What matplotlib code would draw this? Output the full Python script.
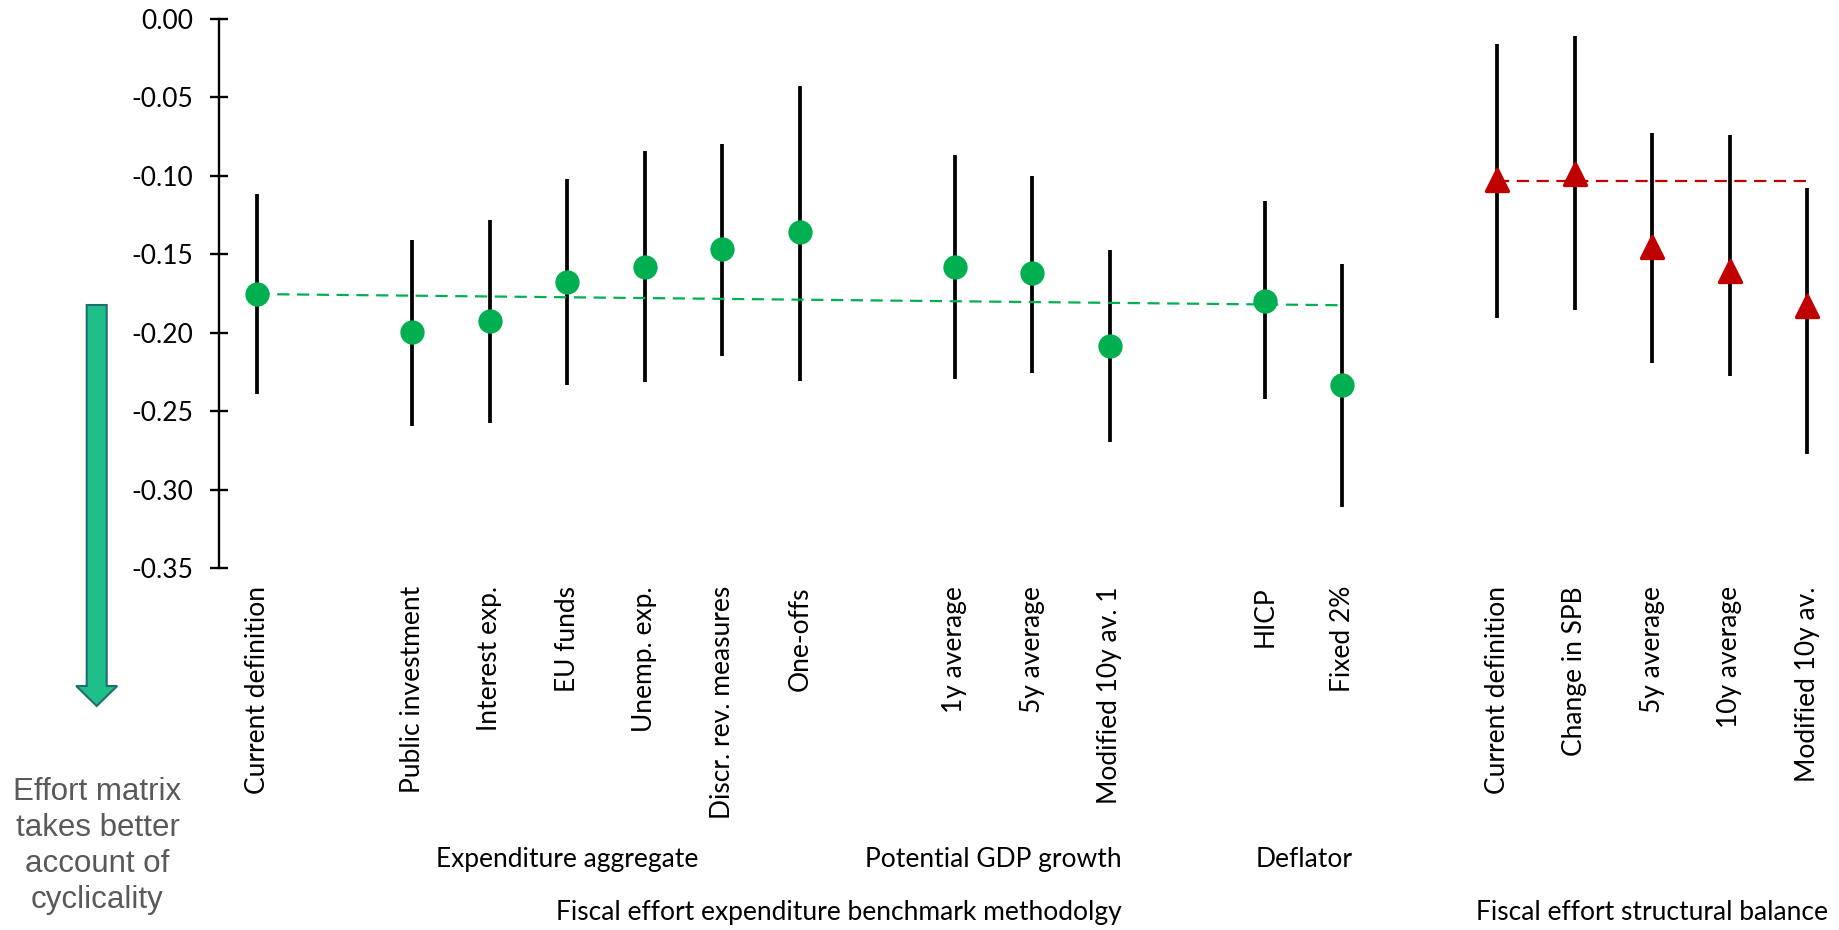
import numpy as np
import matplotlib
matplotlib.use("Agg")
import matplotlib.pyplot as plt
import matplotlib.transforms as mtransforms
from matplotlib.patches import FancyArrow
from matplotlib.markers import MarkerStyle
from matplotlib.ticker import FormatStrFormatter

plt.rcParams['axes.unicode_minus'] = False
plt.rcParams['font.family'] = ['Lato', 'DejaVu Sans']

# ---------------- data ----------------
categories = ["Current definition", "", "Public investment", "Interest exp.", "EU funds",
              "Unemp. exp.", "Discr. rev. measures", "One-offs", "", "1y average",
              "5y average", "Modified 10y av. 1", "", "HICP", "Fixed 2%", "",
              "Current definition", "Change in SPB", "5y average", "10y average",
              "Modified 10y av."]

nan = np.nan
exp_mid = [-0.1753, nan, -0.1994, -0.1928, -0.1677, -0.1580, -0.1466, -0.1361, nan,
           -0.1580, -0.1623, -0.2086, nan, -0.1799, -0.2337, nan, nan, nan, nan, nan, nan]
exp_low = [-0.2391, nan, -0.2595, -0.2576, -0.2337, -0.2318, -0.2152, -0.2310, nan,
           -0.2293, -0.2256, -0.2695, nan, -0.2422, -0.3113, nan, nan, nan, nan, nan, nan]
exp_high = [-0.1117, nan, -0.1412, -0.1281, -0.1025, -0.0845, -0.0798, -0.0428, nan,
            -0.0866, -0.1000, -0.1473, nan, -0.1161, -0.1563, nan, nan, nan, nan, nan, nan]

sb_mid = [nan] * 16 + [-0.1028, -0.0988, -0.1458, -0.1611, -0.1832]
sb_low = [nan] * 16 + [-0.1908, -0.1855, -0.2194, -0.2279, -0.2771]
sb_high = [nan] * 16 + [-0.0161, -0.0114, -0.0729, -0.0744, -0.1081]

# reference lines (start/end values)
exp_ref_slots = [0, 14]
exp_ref_values = [-0.1755, -0.1826]
sb_ref_slots = [16, 20]
sb_ref_values = [-0.1032, -0.1032]

group_labels_1 = ["Expenditure aggregate", "Potential GDP growth", "Deflator"]
group_pos_1 = [4.0, 9.5, 13.5]
group_labels_2 = ["Fiscal effort expenditure benchmark methodolgy", "Fiscal effort structural balance"]
group_pos_2 = [7.5, 18.0]

yticks = [0.00, -0.05, -0.10, -0.15, -0.20, -0.25, -0.30, -0.35]

annotation = "Effort matrix\ntakes better\naccount of\ncyclicality"

# ---------------- figure ----------------
W, H = 1840, 930
fig = plt.figure(figsize=(W / 100, H / 100), dpi=100)
ax = fig.add_axes([218.7 / W, (H - 568) / H, (21 * 77.5) / W, (568 - 18.6) / H])

x = np.arange(len(categories))
GREEN = '#00B050'
RED = '#C00000'

exp_mid_a = np.array(exp_mid); exp_low_a = np.array(exp_low); exp_high_a = np.array(exp_high)
sb_mid_a = np.array(sb_mid); sb_low_a = np.array(sb_low); sb_high_a = np.array(sb_high)

ax.vlines(x, exp_low_a, exp_high_a, color='black', lw=2.7, zorder=2)
ax.vlines(x, sb_low_a, sb_high_a, color='black', lw=2.7, zorder=2)

ax.plot(exp_ref_slots, exp_ref_values, color=GREEN, lw=1.6, dashes=(5.5, 3.4), zorder=3)
ax.plot(sb_ref_slots, sb_ref_values, color=RED, lw=1.6, dashes=(5.5, 3.4), zorder=3)

ax.plot(x, exp_mid_a, 'o', color=GREEN, markersize=17.5, markeredgewidth=0, zorder=4)
tri = MarkerStyle('^', joinstyle='round')
ax.plot(x, sb_mid_a, linestyle='none', marker=tri, color=RED, markersize=15.5,
        markeredgewidth=2.4, markeredgecolor=RED, zorder=4)

ax.set_xlim(-0.5, len(categories) - 0.5)
ax.set_ylim(-0.35, 0.0)
ax.set_yticks(yticks)
ax.yaxis.set_major_formatter(FormatStrFormatter('%.2f'))

lab_idx = [i for i, c in enumerate(categories) if c]
ax.set_xticks(lab_idx)
ax.set_xticklabels([categories[i] for i in lab_idx], rotation=90, fontsize=19)
ax.tick_params(axis='x', length=0, pad=13)
ax.tick_params(axis='y', direction='inout', length=13, width=1.7, labelsize=19, pad=12)

for s in ['top', 'right', 'bottom']:
    ax.spines[s].set_visible(False)
ax.spines['left'].set_linewidth(1.7)
ax.spines['left'].set_bounds(-0.35, 0.0)

# group labels
trans = mtransforms.blended_transform_factory(ax.transData, fig.transFigure)
for lab, p in zip(group_labels_1, group_pos_1):
    ax.text(p, 1 - 859 / H, lab, transform=trans, ha='center', va='center', fontsize=19)
for lab, p in zip(group_labels_2, group_pos_2):
    ax.text(p, 1 - 912 / H, lab, transform=trans, ha='center', va='center', fontsize=19)

# overlay for arrow + annotation (pixel coords)
ov = fig.add_axes([0, 0, 1, 1], zorder=-1)
ov.set_xlim(0, W)
ov.set_ylim(H, 0)
ov.axis('off')
arrow = FancyArrow(96.7, 305, 0, 401, width=20, head_width=41, head_length=20,
                   length_includes_head=True, facecolor='#1FBF8A', edgecolor='#1F6E70',
                   linewidth=1.5)
ov.add_patch(arrow)
ov.text(97.5, 846, annotation, ha='center', va='center', fontsize=22.5,
        color='#595959', family=['Liberation Sans', 'DejaVu Sans'], linespacing=1.27)

fig.savefig('out.png', dpi=100)
